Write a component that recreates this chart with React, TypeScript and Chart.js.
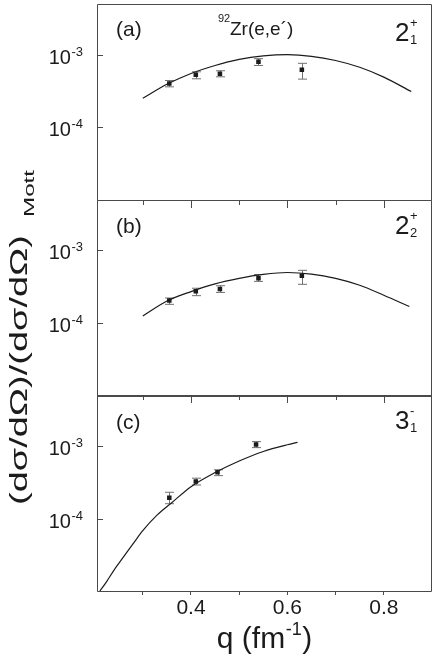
import React, { useEffect, useRef } from 'react';
import { Chart, registerables } from 'chart.js';

Chart.register(...registerables);

// ---------- axes ----------
const xMin = 0.205;
const xMax = 0.9;
const xTickValues = [0.3, 0.4, 0.5, 0.6, 0.7, 0.8];
const xLabeledTicks = [0.4, 0.6, 0.8];

const yMin = 1e-5;
const yMax = 5e-3;
const yTickValues = [1e-3, 1e-4];
const yTickBase = ['10', '10'];
const yTickExp = ['-3', '-4'];

// ---------- panel labels ----------
const panelLetters = ['(a)', '(b)', '(c)'];
const stateMain = ['2', '2', '3'];
const stateSup = ['+', '+', '-'];
const stateSub = ['1', '2', '1'];

// ---------- panel (a): 2+1 ----------
const qA = [0.355, 0.41, 0.46, 0.54, 0.63];
const valA = [4.0e-4, 5.3e-4, 5.45e-4, 8.0e-4, 6.2e-4];
const loA = [3.6e-4, 4.65e-4, 4.95e-4, 7.1e-4, 4.6e-4];
const hiA = [4.4e-4, 5.8e-4, 6.0e-4, 8.8e-4, 7.6e-4];
const curveQA = [0.3, 0.35, 0.4, 0.45, 0.5, 0.55, 0.6, 0.65, 0.7, 0.75, 0.8, 0.857];
const curveA = [2.5e-4, 3.9e-4, 5.5e-4, 7.1e-4, 8.6e-4, 9.6e-4, 1.0e-3, 9.5e-4, 8.3e-4, 6.7e-4, 4.9e-4, 3.1e-4];

// ---------- panel (b): 2+2 ----------
const qB = [0.355, 0.41, 0.46, 0.54, 0.63];
const valB = [2.03e-4, 2.72e-4, 2.92e-4, 4.13e-4, 4.45e-4];
const loB = [1.8e-4, 2.37e-4, 2.63e-4, 3.73e-4, 3.4e-4];
const hiB = [2.2e-4, 3.0e-4, 3.25e-4, 4.64e-4, 5.3e-4];
const curveQB = [0.3, 0.35, 0.4, 0.45, 0.5, 0.55, 0.6, 0.65, 0.7, 0.75, 0.8, 0.853];
const curveB = [1.24e-4, 2.0e-4, 2.7e-4, 3.45e-4, 4.1e-4, 4.65e-4, 4.95e-4, 4.7e-4, 4.1e-4, 3.3e-4, 2.4e-4, 1.68e-4];

// ---------- panel (c): 3-1 ----------
const qC = [0.355, 0.41, 0.455, 0.535];
const valC = [1.94e-4, 3.23e-4, 4.33e-4, 1.05e-3];
const loC = [1.6e-4, 2.9e-4, 3.9e-4, 9.5e-4];
const hiC = [2.3e-4, 3.6e-4, 4.7e-4, 1.15e-3];
const curveQC = [0.211, 0.225, 0.24, 0.26, 0.28, 0.3, 0.33, 0.36, 0.4, 0.45, 0.5, 0.55, 0.6, 0.621];
const curveC = [1.0e-5, 1.35e-5, 1.93e-5, 2.95e-5, 4.5e-5, 6.8e-5, 1.12e-4, 1.65e-4, 2.75e-4, 4.3e-4, 6.2e-4, 8.4e-4, 1.04e-3, 1.12e-3];

const FONT = '"Liberation Sans", Arial, Helvetica, sans-serif';
const INK = '#1b1b1b';
const FRAME = '#4a4a4a';
const ERR = '#707070';

const panelIds = ['ya', 'yb', 'yc'];
const panelErr = [
  { q: qA, lo: loA, hi: hiA },
  { q: qB, lo: loB, hi: hiB },
  { q: qC, lo: loC, hi: hiC },
];
const letterBaseline = [32, 33.5, 33.5];
const stateBaseline = [37, 34, 34];

const toPts = (xs: number[], ys: number[]) => xs.map((x, i) => ({ x, y: ys[i] }));

const decorPlugin = {
  id: 'decor',
  beforeDatasetsDraw(chart: any) {
    const ctx = chart.ctx;
    const xs = chart.scales.x;
    ctx.save();
    ctx.strokeStyle = ERR;
    ctx.lineWidth = 1;
    panelIds.forEach((id, p) => {
      const ys = chart.scales[id];
      const e = panelErr[p];
      e.q.forEach((q, i) => {
        const px = Math.round(xs.getPixelForValue(q)) + 0.5;
        const y1 = ys.getPixelForValue(e.lo[i]);
        const y2 = ys.getPixelForValue(e.hi[i]);
        ctx.beginPath();
        ctx.moveTo(px, y1);
        ctx.lineTo(px, y2);
        ctx.moveTo(px - 4.5, y1);
        ctx.lineTo(px + 4.5, y1);
        ctx.moveTo(px - 4.5, y2);
        ctx.lineTo(px + 4.5, y2);
        ctx.stroke();
      });
    });
    ctx.restore();
  },
  afterDraw(chart: any) {
    const ctx = chart.ctx;
    const { left, right } = chart.chartArea;
    const xs = chart.scales.x;
    ctx.save();
    panelIds.forEach((id, p) => {
      const ys = chart.scales[id];
      const top = ys.top;
      const bottom = ys.bottom;
      // frame
      ctx.strokeStyle = FRAME;
      ctx.lineWidth = 1;
      ctx.beginPath();
      ctx.rect(Math.round(left) + 0.5, Math.round(top) + 0.5, Math.round(right - left) - 1, Math.round(bottom - top));
      ctx.stroke();
      // inward y ticks
      yTickValues.forEach((v) => {
        const py = Math.round(ys.getPixelForValue(v)) + 0.5;
        ctx.beginPath();
        ctx.moveTo(left, py);
        ctx.lineTo(left + 6, py);
        ctx.stroke();
      });
      // x ticks along the top edge of lower panels
      if (p > 0) {
        xTickValues.forEach((v) => {
          const px = Math.round(xs.getPixelForValue(v)) + 0.5;
          const major = xLabeledTicks.some((t) => Math.abs(t - v) < 1e-9);
          ctx.beginPath();
          ctx.moveTo(px, Math.round(top));
          ctx.lineTo(px, Math.round(top) + (major ? 8 : 5));
          ctx.stroke();
        });
      }
      // y tick labels (10^-n)
      ctx.fillStyle = INK;
      ctx.textBaseline = 'alphabetic';
      yTickValues.forEach((v, i) => {
        const py = ys.getPixelForValue(v);
        ctx.font = `13px ${FONT}`;
        const we = ctx.measureText(yTickExp[i]).width;
        const expRight = 83;
        ctx.textAlign = 'left';
        ctx.fillText(yTickExp[i], expRight - we, py + 1);
        ctx.font = `20px ${FONT}`;
        ctx.textAlign = 'right';
        ctx.fillText(yTickBase[i], expRight - we - 0.5, py + 9);
      });
      // panel letter
      ctx.textAlign = 'left';
      ctx.font = `21px ${FONT}`;
      ctx.fillText(panelLetters[p], 116, top + letterBaseline[p]);
      // state label
      ctx.font = `26px ${FONT}`;
      ctx.fillText(stateMain[p], 395, top + stateBaseline[p]);
      ctx.font = `13px ${FONT}`;
      ctx.fillText(stateSup[p], 410, top + stateBaseline[p] - 14);
      ctx.fillText(stateSub[p], 410, top + stateBaseline[p] + 3);
    });

    // reaction title in panel (a)
    const topA = chart.scales.ya.top;
    ctx.font = `11px ${FONT}`;
    ctx.textAlign = 'left';
    ctx.fillText('92', 218, topA + 17.5);
    ctx.font = `19px ${FONT}`;
    ctx.fillText('Zr(e,e\u00b4)', 230, topA + 30.5);

    // x-axis title q (fm^-1)
    ctx.font = `30px ${FONT}`;
    const t1 = 'q (fm';
    const t3 = ')';
    const w1 = ctx.measureText(t1).width;
    const w3 = ctx.measureText(t3).width;
    ctx.font = `18px ${FONT}`;
    const t2 = '-1';
    const w2 = ctx.measureText(t2).width;
    const total = w1 + w2 + w3 + 1;
    const cx = (left + right) / 2;
    const x0 = cx - total / 2;
    const base = 648;
    ctx.font = `30px ${FONT}`;
    ctx.fillText(t1, x0, base);
    ctx.font = `18px ${FONT}`;
    ctx.fillText(t2, x0 + w1 + 0.5, base - 13);
    ctx.font = `30px ${FONT}`;
    ctx.fillText(t3, x0 + w1 + w2 + 1, base);

    // y-axis title: (dσ/dΩ)/(dσ/dΩ) Mott  (rotated, stretched along the text as in the original)
    const mainT = '(d\u03c3/d\u03a9)/(d\u03c3/d\u03a9)';
    const subT = 'Mott';
    const mainFont = `23px ${FONT}`;
    const subFont = `15px ${FONT}`;
    ctx.font = mainFont;
    const m1 = ctx.measureText(mainT).width;
    ctx.font = subFont;
    const m2 = ctx.measureText(subT).width;
    const mainLen = 270;
    const subLen = 47;
    const startY = 505; // screen y where the text begins (bottom)
    const gapLen = 18;
    // main text
    ctx.save();
    ctx.translate(27, startY);
    ctx.rotate(-Math.PI / 2);
    ctx.scale(mainLen / m1, 1);
    ctx.font = mainFont;
    ctx.fillText(mainT, 0, 0);
    ctx.restore();
    // subscript
    ctx.save();
    ctx.translate(34, startY - mainLen - gapLen);
    ctx.rotate(-Math.PI / 2);
    ctx.scale(subLen / m2, 1);
    ctx.font = subFont;
    ctx.fillText(subT, 0, 0);
    ctx.restore();

    ctx.restore();
  },
};

const yScale = () => ({
  type: 'logarithmic' as const,
  min: yMin,
  max: yMax,
  position: 'left' as const,
  stack: 'panels',
  stackWeight: 1,
  grid: { display: false },
  border: { display: false },
  ticks: { display: false },
  afterBuildTicks: (s: any) => {
    s.ticks = yTickValues.map((v) => ({ value: v }));
  },
  afterFit: (s: any) => {
    s.width = 97;
  },
});

export default function App() {
  const ref = useRef<HTMLCanvasElement | null>(null);
  useEffect(() => {
    if (!ref.current) return;
    const curveStyle = {
      type: 'line' as const,
      borderColor: INK,
      borderWidth: 1.2,
      pointRadius: 0,
      fill: false,
      cubicInterpolationMode: 'monotone' as const,
    };
    const pointStyle = {
      type: 'line' as const,
      showLine: false,
      pointStyle: 'rect' as const,
      pointRadius: 3.2,
      pointBackgroundColor: INK,
      pointBorderWidth: 0,
      borderWidth: 0,
    };
    const chart = new Chart(ref.current, {
      type: 'line',
      data: {
        datasets: [
          { ...curveStyle, label: 'curve a', data: toPts(curveQA, curveA), yAxisID: 'ya' },
          { ...pointStyle, label: 'data a', data: toPts(qA, valA), yAxisID: 'ya' },
          { ...curveStyle, label: 'curve b', data: toPts(curveQB, curveB), yAxisID: 'yb' },
          { ...pointStyle, label: 'data b', data: toPts(qB, valB), yAxisID: 'yb' },
          { ...curveStyle, label: 'curve c', data: toPts(curveQC, curveC), yAxisID: 'yc' },
          { ...pointStyle, label: 'data c', data: toPts(qC, valC), yAxisID: 'yc' },
        ] as any,
      },
      options: {
        animation: false,
        responsive: false,
        devicePixelRatio: 1,
        layout: { padding: { left: 0, right: 2, top: 0, bottom: 0 } },
        plugins: { legend: { display: false }, tooltip: { enabled: false }, title: { display: false } },
        scales: {
          x: {
            type: 'linear',
            min: xMin,
            max: xMax,
            position: 'bottom',
            border: { display: false },
            grid: { drawOnChartArea: false, drawTicks: true, tickLength: 4, color: FRAME },
            afterBuildTicks: (s: any) => {
              s.ticks = xTickValues.map((v) => ({ value: v }));
            },
            afterFit: (s: any) => {
              s.height = 66;
            },
            ticks: {
              autoSkip: false,
              maxRotation: 0,
              padding: 1,
              color: INK,
              font: { size: 21, family: FONT },
              callback: (v: any) => {
                const n = Number(v);
                return xLabeledTicks.some((t) => Math.abs(t - n) < 1e-9) ? n.toFixed(1) : '';
              },
            },
          },
          yc: yScale(),
          yb: yScale(),
          ya: yScale(),
        } as any,
      },
      plugins: [decorPlugin],
    });
    return () => chart.destroy();
  }, []);
  return (
    <div style={{ position: 'absolute', left: 0, top: 0, width: 436, height: 657, background: '#fff' }}>
      <canvas ref={ref} width={436} height={657} style={{ display: 'block', width: 436, height: 657 }} />
    </div>
  );
}
